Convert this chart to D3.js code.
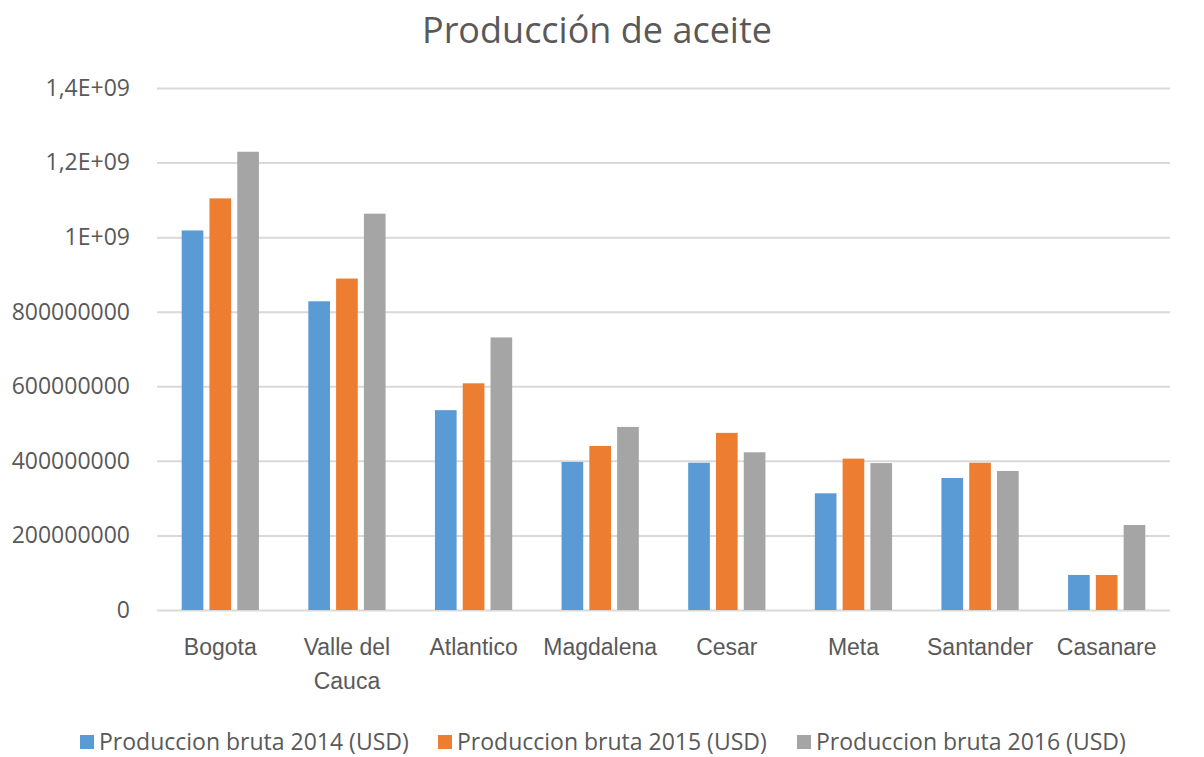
<!DOCTYPE html>
<html><head><meta charset="utf-8">
<script src="https://cdn.jsdelivr.net/npm/d3@7"></script>
<style>body{margin:0;background:#fff;}svg{display:block;font-family:"Open Sans",sans-serif;}</style>
</head><body><div id="chart"></div>
<script>
const categories = ["Bogota", "Valle del Cauca", "Atlantico", "Magdalena", "Cesar", "Meta", "Santander", "Casanare"];
const seriesNames = ["Produccion bruta 2014 (USD)", "Produccion bruta 2015 (USD)", "Produccion bruta 2016 (USD)"];
const values2014 = [1018e6, 828e6, 536e6, 397e6, 395e6, 313e6, 354e6, 94e6];
const values2015 = [1104e6, 889e6, 608e6, 440e6, 475e6, 406e6, 395e6, 94e6];
const values2016 = [1229e6, 1063e6, 731e6, 491e6, 423e6, 394e6, 373e6, 228e6];
const yTicks = [0, 2e8, 4e8, 6e8, 8e8, 1e9, 1.2e9, 1.4e9];
const yTickLabels = ["0", "200000000", "400000000", "600000000", "800000000", "1E+09", "1,2E+09", "1,4E+09"];
const colors = ["#5B9BD5", "#ED7D31", "#A5A5A5"];
const title = "Producción de aceite";

(function(){
const W = 1204, H = 757;
const svg = d3.select("#chart").append("svg").attr("width", W).attr("height", H);
const mLeft = 157, mRight = 1170, mTop = 88, mBottom = 610;
const series = [values2014, values2015, values2016];

const y = d3.scaleLinear().domain([0, 1.4e9]).range([mBottom, mTop]);
const x0 = d3.scaleBand().domain(categories).range([mLeft, mRight]).paddingInner(0.39).paddingOuter(0.195);
const x1 = d3.scaleBand().domain([0,1,2]).range([0, x0.bandwidth()]).paddingInner(0.22);

svg.append("text").attr("x", 597).attr("y", 43).attr("text-anchor", "middle")
  .attr("font-size", 36).attr("fill", "#595959").text(title);

const yAxis = d3.axisLeft(y).tickValues(yTicks).tickSize(-(mRight-mLeft)).tickFormat((d,i)=>yTickLabels[i]).tickPadding(27);
const gy = svg.append("g").attr("transform", `translate(${mLeft},0)`).call(yAxis);
gy.select(".domain").remove();
gy.selectAll(".tick line").attr("stroke", "#D9D9D9").attr("stroke-width", 2);
gy.selectAll(".tick text").attr("fill", "#595959").attr("font-size", 23).attr("font-family", "'Open Sans',sans-serif");

const g = svg.append("g");
categories.forEach((c, ci) => {
  series.forEach((s, si) => {
    g.append("rect").attr("x", x0(c) + x1(si)).attr("width", x1.bandwidth())
      .attr("y", y(s[ci])).attr("height", y(0) - y(s[ci])).attr("fill", colors[si]);
  });
});

const xAxis = d3.axisBottom(x0).tickSize(0).tickPadding(0);
const gx = svg.append("g").attr("transform", `translate(0,${mBottom})`).call(xAxis);
gx.select(".domain").remove();
gx.selectAll(".tick text").remove();
gx.selectAll(".tick").each(function(d){
  const t = d3.select(this).append("text").attr("fill", "#595959").attr("font-size", 23).attr("text-anchor", "middle");
  const lines = d === "Valle del Cauca" ? ["Valle del", "Cauca"] : [d];
  lines.forEach((l, i) => t.append("tspan").attr("x", 0).attr("y", 45 + i*34).text(l));
});

const legX = [80, 438, 797];
seriesNames.forEach((n, i) => {
  const lg = svg.append("g").attr("transform", `translate(${legX[i]},742)`);
  lg.append("rect").attr("x", 0).attr("y", -7).attr("width", 14).attr("height", 14).attr("fill", colors[i]);
  lg.append("text").attr("x", 19).attr("y", 0).attr("dy", "0.35em").attr("font-size", 23).attr("fill", "#595959").text(n);
});
})();
</script></body></html>
